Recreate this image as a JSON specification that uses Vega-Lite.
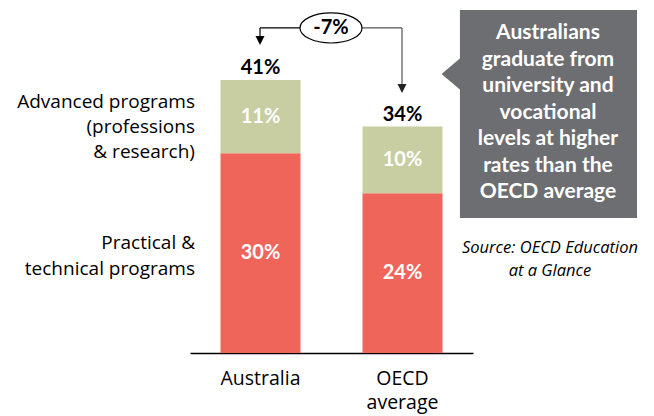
{
  "$schema": "https://vega.github.io/schema/vega-lite/v6.json",
  "autosize": {"type": "none"},
  "padding": {"left": 190, "top": 0, "right": 181, "bottom": 63},
  "width": 283,
  "height": 353,
  "config": {"view": {"stroke": null}, "font": "Open Sans", "text": {"font": "Open Sans"}},
  "data": {"values": [
    {"region": "Australia", "type": "Practical & technical programs", "value": 0.30},
    {"region": "Australia", "type": "Advanced programs (professions & research)", "value": 0.11},
    {"region": "OECD average", "type": "Practical & technical programs", "value": 0.24},
    {"region": "OECD average", "type": "Advanced programs (professions & research)", "value": 0.10}
  ]},
  "resolve": {"scale": {"x": "independent"}},
  "layer": [
    {
      "layer": [
        {
          "mark": {"type": "bar"},
          "encoding": {
            "x": {"field": "region", "type": "nominal",
              "scale": {"type": "band", "domain": ["Australia", "OECD average"], "paddingInner": 0.4366, "paddingOuter": 0.2148},
              "axis": {"title": null, "labelAngle": 0, "ticks": false, "labelFont": "Open Sans", "labelFontSize": 19.5, "labelColor": "#000", "labelPadding": 16, "labelLineHeight": 24, "domainColor": "#000", "domainWidth": 1.5,
                "labelExpr": "datum.value == 'OECD average' ? ['OECD', 'average'] : datum.value"}},
            "y": {"field": "value", "type": "quantitative", "stack": "zero", "scale": {"domain": [0, 0.53], "nice": false, "zero": false}, "axis": null},
            "color": {"field": "type", "type": "nominal", "legend": null,
              "scale": {"domain": ["Practical & technical programs", "Advanced programs (professions & research)"], "range": ["#F0655A", "#C8CEA2"]}},
            "order": {"field": "type", "sort": "descending"}
          }
        },
        {
          "transform": [
            {"stack": "value", "groupby": ["region"], "sort": [{"field": "type", "order": "descending"}], "as": ["v0", "v1"]},
            {"fold": ["v0", "v1"], "as": ["edge", "pos"]},
            {"aggregate": [{"op": "mean", "field": "pos", "as": "mid"}, {"op": "max", "field": "value", "as": "pct"}], "groupby": ["region", "type"]}
          ],
          "mark": {"type": "text", "color": "#ffffff", "font": "Lato", "fontWeight": "bold", "fontSize": 20, "baseline": "middle", "align": "center"},
          "encoding": {
            "x": {"field": "region", "type": "nominal", "bandPosition": 0.5},
            "y": {"field": "mid", "type": "quantitative"},
            "text": {"field": "pct", "type": "quantitative", "format": ".0%"}
          }
        },
        {
          "mark": {"type": "text", "color": "#000000", "font": "Lato", "fontWeight": "bold", "fontSize": 20, "baseline": "middle", "align": "center", "dy": -12},
          "encoding": {
            "x": {"field": "region", "type": "nominal", "bandPosition": 0.5},
            "y": {"aggregate": "sum", "field": "value", "type": "quantitative"},
            "text": {"aggregate": "sum", "field": "value", "type": "quantitative", "format": ".0%"}
          }
        }
      ]
    },
    {
      "data": {"values": [{}]},
      "encoding": {
        "x": {"type": "quantitative", "scale": {"domain": [-0.493, 1.5], "nice": false, "zero": false}, "axis": null}
      },
      "layer": [
        {
          "mark": {"type": "text", "text": ["Advanced programs", "(professions ", "& research)"], "align": "right", "baseline": "middle", "fontSize": 19, "lineHeight": 25, "color": "#000"},
          "encoding": {"x": {"datum": -0.458, "type": "quantitative"}, "y": {"datum": 0.3769, "type": "quantitative"}}
        },
        {
          "mark": {"type": "text", "text": ["Practical &", "technical programs"], "align": "right", "baseline": "middle", "fontSize": 19, "lineHeight": 26, "color": "#000"},
          "encoding": {"x": {"datum": -0.458, "type": "quantitative"}, "y": {"datum": 0.1652, "type": "quantitative"}}
        },
        {
          "mark": {"type": "rule", "color": "#000", "strokeWidth": 1.2},
          "encoding": {"x": {"datum": 0, "type": "quantitative"}, "x2": {"datum": 0.5}, "y": {"datum": 0.488, "type": "quantitative"}}
        },
        {
          "mark": {"type": "rule", "color": "#555", "strokeWidth": 1.2},
          "encoding": {"x": {"datum": 0.5, "type": "quantitative"}, "x2": {"datum": 1}, "y": {"datum": 0.488, "type": "quantitative"}}
        },
        {
          "mark": {"type": "rule", "color": "#000", "strokeWidth": 1.2},
          "encoding": {"x": {"datum": 0, "type": "quantitative"}, "y": {"datum": 0.488, "type": "quantitative"}, "y2": {"datum": 0.47}}
        },
        {
          "mark": {"type": "rule", "color": "#555", "strokeWidth": 1.2},
          "encoding": {"x": {"datum": 1, "type": "quantitative"}, "y": {"datum": 0.488, "type": "quantitative"}, "y2": {"datum": 0.4024}}
        },
        {
          "mark": {"type": "point", "shape": "M-1,-1L1,-1L0,1Z", "size": 81, "filled": true, "color": "#000", "opacity": 1},
          "encoding": {"x": {"datum": 0, "type": "quantitative"}, "y": {"datum": 0.4692, "type": "quantitative"}}
        },
        {
          "mark": {"type": "point", "shape": "M-1,-1L1,-1L0,1Z", "size": 81, "filled": true, "color": "#222", "opacity": 1},
          "encoding": {"x": {"datum": 1, "type": "quantitative"}, "y": {"datum": 0.3971, "type": "quantitative"}}
        },
        {
          "mark": {"type": "point", "shape": "M-1,0A1,0.484 0 1,1 1,0A1,0.484 0 1,1 -1,0Z", "size": 3844, "fill": "#ffffff", "stroke": "#000", "strokeWidth": 1.2, "opacity": 1, "fillOpacity": 1},
          "encoding": {"x": {"datum": 0.5, "type": "quantitative"}, "y": {"datum": 0.488, "type": "quantitative"}}
        },
        {
          "mark": {"type": "text", "text": "-7%", "font": "Lato", "fontWeight": "bold", "fontSize": 20, "align": "center", "baseline": "middle", "color": "#000"},
          "encoding": {"x": {"datum": 0.5, "type": "quantitative"}, "y": {"datum": 0.488, "type": "quantitative"}}
        },
        {
          "mark": {"type": "rect", "color": "#6D6E71", "opacity": 1},
          "encoding": {"x": {"datum": 1.408, "type": "quantitative"}, "x2": {"datum": 2.655}, "y": {"datum": 0.515, "type": "quantitative"}, "y2": {"datum": 0.2027}}
        },
        {
          "mark": {"type": "point", "shape": "M0.59,-1L-0.59,0L0.59,1Z", "size": 1024, "filled": true, "color": "#6D6E71", "opacity": 1},
          "encoding": {"x": {"datum": 1.345, "type": "quantitative"}, "y": {"datum": 0.4189, "type": "quantitative"}}
        },
        {
          "mark": {"type": "text", "text": ["Australians", "graduate from", "university and", "vocational", "levels at higher", "rates than the", "OECD average "], "align": "center", "baseline": "middle", "font": "Lato", "fontSize": 21, "fontWeight": "bold", "lineHeight": 26.5, "color": "#ffffff"},
          "encoding": {"x": {"datum": 2.028, "type": "quantitative"}, "y": {"datum": 0.4804, "type": "quantitative"}}
        },
        {
          "mark": {"type": "text", "text": ["Source: OECD Education", "at a Glance"], "align": "center", "baseline": "middle", "fontSize": 16.5, "fontStyle": "italic", "lineHeight": 23, "color": "#000"},
          "encoding": {"x": {"datum": 2.042, "type": "quantitative"}, "y": {"datum": 0.1576, "type": "quantitative"}}
        }
      ]
    }
  ]
}
